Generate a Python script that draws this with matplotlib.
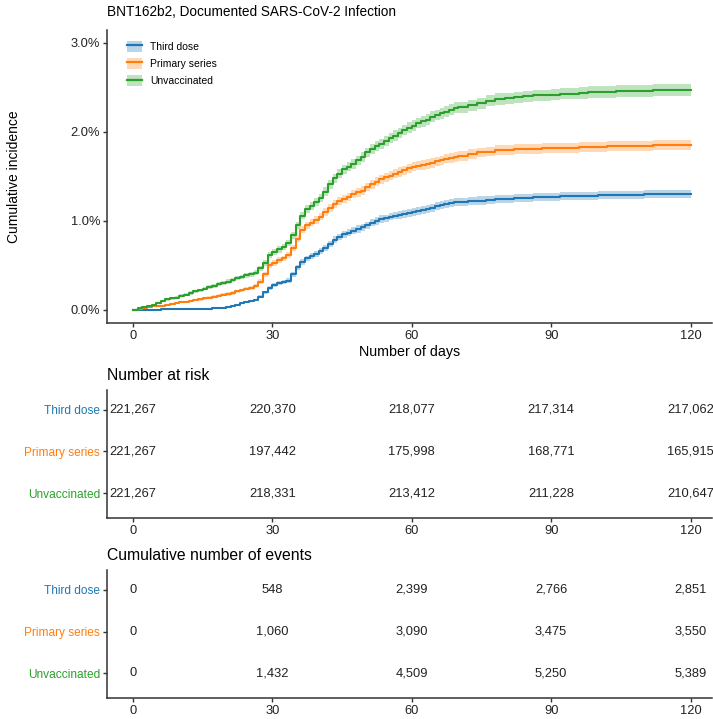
import numpy as np
import matplotlib.pyplot as plt
from matplotlib.patches import Patch
from matplotlib.lines import Line2D

plt.rcParams['font.family'] = ['Liberation Sans', 'DejaVu Sans']

groups = ['Third dose', 'Primary series', 'Unvaccinated']
colors = ['#1f77b4', '#ff7f0e', '#2ca02c']
n_start = 221267

# daily up to day 70, then every 2 days
days = list(range(0, 71)) + list(range(72, 121, 2))

# cumulative incidence, percent
third_dose = [0, 0.001, 0.002, 0.003, 0.004, 0.005, 0.006, 0.007, 0.008, 0.009,
              0.010, 0.011, 0.012, 0.013, 0.014, 0.015, 0.016, 0.018, 0.02, 0.025,
              0.03, 0.045, 0.06, 0.075, 0.09, 0.10, 0.11, 0.15, 0.20, 0.25,
              0.28, 0.30, 0.31, 0.33, 0.40, 0.48, 0.54, 0.58, 0.61, 0.63,
              0.66, 0.70, 0.74, 0.79, 0.82, 0.85, 0.87, 0.89, 0.91, 0.93,
              0.95, 0.98, 1.00, 1.02, 1.03, 1.05, 1.06, 1.07, 1.08, 1.09,
              1.10, 1.11, 1.12, 1.13, 1.15, 1.17, 1.18, 1.19, 1.20, 1.21,
              1.21,
              1.22, 1.23, 1.24, 1.25, 1.25, 1.26, 1.26, 1.27, 1.27, 1.27,
              1.28, 1.28, 1.28, 1.28, 1.29, 1.29, 1.29, 1.29, 1.29, 1.30,
              1.30, 1.30, 1.30, 1.30, 1.30]
primary_series = [0, 0.01, 0.02, 0.03, 0.04, 0.04, 0.05, 0.06, 0.07, 0.08,
                  0.09, 0.09, 0.10, 0.11, 0.12, 0.13, 0.14, 0.15, 0.16, 0.17,
                  0.18, 0.19, 0.21, 0.22, 0.24, 0.25, 0.27, 0.32, 0.40, 0.50,
                  0.53, 0.56, 0.58, 0.62, 0.70, 0.80, 0.90, 0.95, 0.98, 1.01,
                  1.05, 1.10, 1.15, 1.19, 1.22, 1.25, 1.27, 1.30, 1.32, 1.34,
                  1.38, 1.41, 1.44, 1.47, 1.49, 1.51, 1.53, 1.55, 1.57, 1.59,
                  1.61, 1.62, 1.63, 1.64, 1.65, 1.67, 1.68, 1.70, 1.71, 1.72,
                  1.73,
                  1.75, 1.77, 1.78, 1.80, 1.80, 1.81, 1.81, 1.81, 1.82, 1.82,
                  1.82, 1.82, 1.83, 1.83, 1.83, 1.84, 1.84, 1.84, 1.84, 1.84,
                  1.85, 1.85, 1.85, 1.85, 1.85]
unvaccinated = [0, 0.02, 0.03, 0.05, 0.06, 0.08, 0.10, 0.12, 0.13, 0.14,
                0.16, 0.17, 0.19, 0.21, 0.22, 0.24, 0.26, 0.27, 0.29, 0.30,
                0.32, 0.34, 0.36, 0.37, 0.39, 0.40, 0.42, 0.47, 0.53, 0.62,
                0.65, 0.68, 0.71, 0.75, 0.84, 0.95, 1.06, 1.13, 1.17, 1.21,
                1.26, 1.33, 1.41, 1.48, 1.53, 1.58, 1.61, 1.64, 1.68, 1.72,
                1.77, 1.81, 1.84, 1.87, 1.90, 1.93, 1.96, 1.99, 2.02, 2.05,
                2.07, 2.10, 2.12, 2.14, 2.17, 2.19, 2.21, 2.23, 2.25, 2.27,
                2.28,
                2.30, 2.32, 2.35, 2.37, 2.38, 2.39, 2.40, 2.41, 2.41, 2.42,
                2.43, 2.43, 2.44, 2.45, 2.45, 2.45, 2.46, 2.46, 2.46, 2.46,
                2.47, 2.47, 2.47, 2.47, 2.47]

table_days = [0, 30, 60, 90, 120]
at_risk = [
    ['221,267', '220,370', '218,077', '217,314', '217,062'],
    ['221,267', '197,442', '175,998', '168,771', '165,915'],
    ['221,267', '218,331', '213,412', '211,228', '210,647'],
]
events = [
    ['0', '548', '2,399', '2,766', '2,851'],
    ['0', '1,060', '3,090', '3,475', '3,550'],
    ['0', '1,432', '4,509', '5,250', '5,389'],
]

xlim = (-5.6, 124.6)
axcol = '#333333'

fig = plt.figure(figsize=(7.13, 7.19), dpi=100)
ax = fig.add_axes([0.150, 0.5508, 0.8485, 0.4075])

handles = []
for name, vals, c in zip(groups, [third_dose, primary_series, unvaccinated], colors):
    v = np.array(vals)
    p = v / 100
    # approximate 95% band
    half = 1.96 * np.sqrt(p * (1 - p) / n_start) * 100
    ax.fill_between(days, v - half, v + half, step='post', color=c, alpha=0.3, lw=0)
    ax.step(days, v, where='post', color=c, lw=1.5)
    handles.append((Patch(facecolor=c, alpha=0.3, lw=0), Line2D([], [], color=c, lw=1.6)))

ax.set_xlim(*xlim)
ax.set_ylim(-0.146, 3.146)
ax.set_xticks(table_days)
ax.set_yticks([0, 1, 2, 3])
ax.set_yticklabels(['0.0%', '1.0%', '2.0%', '3.0%'])
ax.set_xlabel('Number of days', fontsize=10.3, labelpad=2)
ax.set_ylabel('Cumulative incidence', fontsize=10)
ax.yaxis.set_label_coords(-0.142, 0.5)
ax.set_title('BNT162b2, Documented SARS-CoV-2 Infection', loc='left', fontsize=9.8, pad=10)
ax.legend(handles, groups, loc='upper left', bbox_to_anchor=(0.018, 0.995), frameon=False,
          fontsize=7.5, handlelength=1.4, handleheight=1.3, labelspacing=0.55)

for s in ['top', 'right']:
    ax.spines[s].set_visible(False)


def table_axes(rect, title, rows):
    t = fig.add_axes(rect)
    for i, row in enumerate(rows):
        for d, txt in zip(table_days, row):
            t.text(d, 3 - i, txt, ha='center', va='center', fontsize=9.3, color='#222222')
    t.set_xlim(*xlim)
    t.set_ylim(0.4, 3.48)
    t.set_xticks(table_days)
    t.set_yticks([3, 2, 1])
    t.set_yticklabels(groups)
    t.set_title(title, loc='left', fontsize=11.3, pad=7)
    for s in ['top', 'right']:
        t.spines[s].set_visible(False)
    return t


t1 = table_axes([0.150, 0.2796, 0.8485, 0.178], 'Number at risk', at_risk)
t2 = table_axes([0.150, 0.0292, 0.8485, 0.178], 'Cumulative number of events', events)

for a in [ax, t1, t2]:
    for s in ['left', 'bottom']:
        a.spines[s].set_color(axcol)
        a.spines[s].set_linewidth(1.1)
    a.tick_params(length=3, width=1, color=axcol, labelsize=9.3, pad=2)
    for lab in a.get_xticklabels():
        lab.set_color('#222222')

for lab in ax.get_yticklabels():
    lab.set_color('#222222')

for t in [t1, t2]:
    t.tick_params(axis='y', labelsize=8.6)
    for lab, c in zip(t.get_yticklabels(), colors):
        lab.set_color(c)

fig.savefig('out.png', dpi=100)
